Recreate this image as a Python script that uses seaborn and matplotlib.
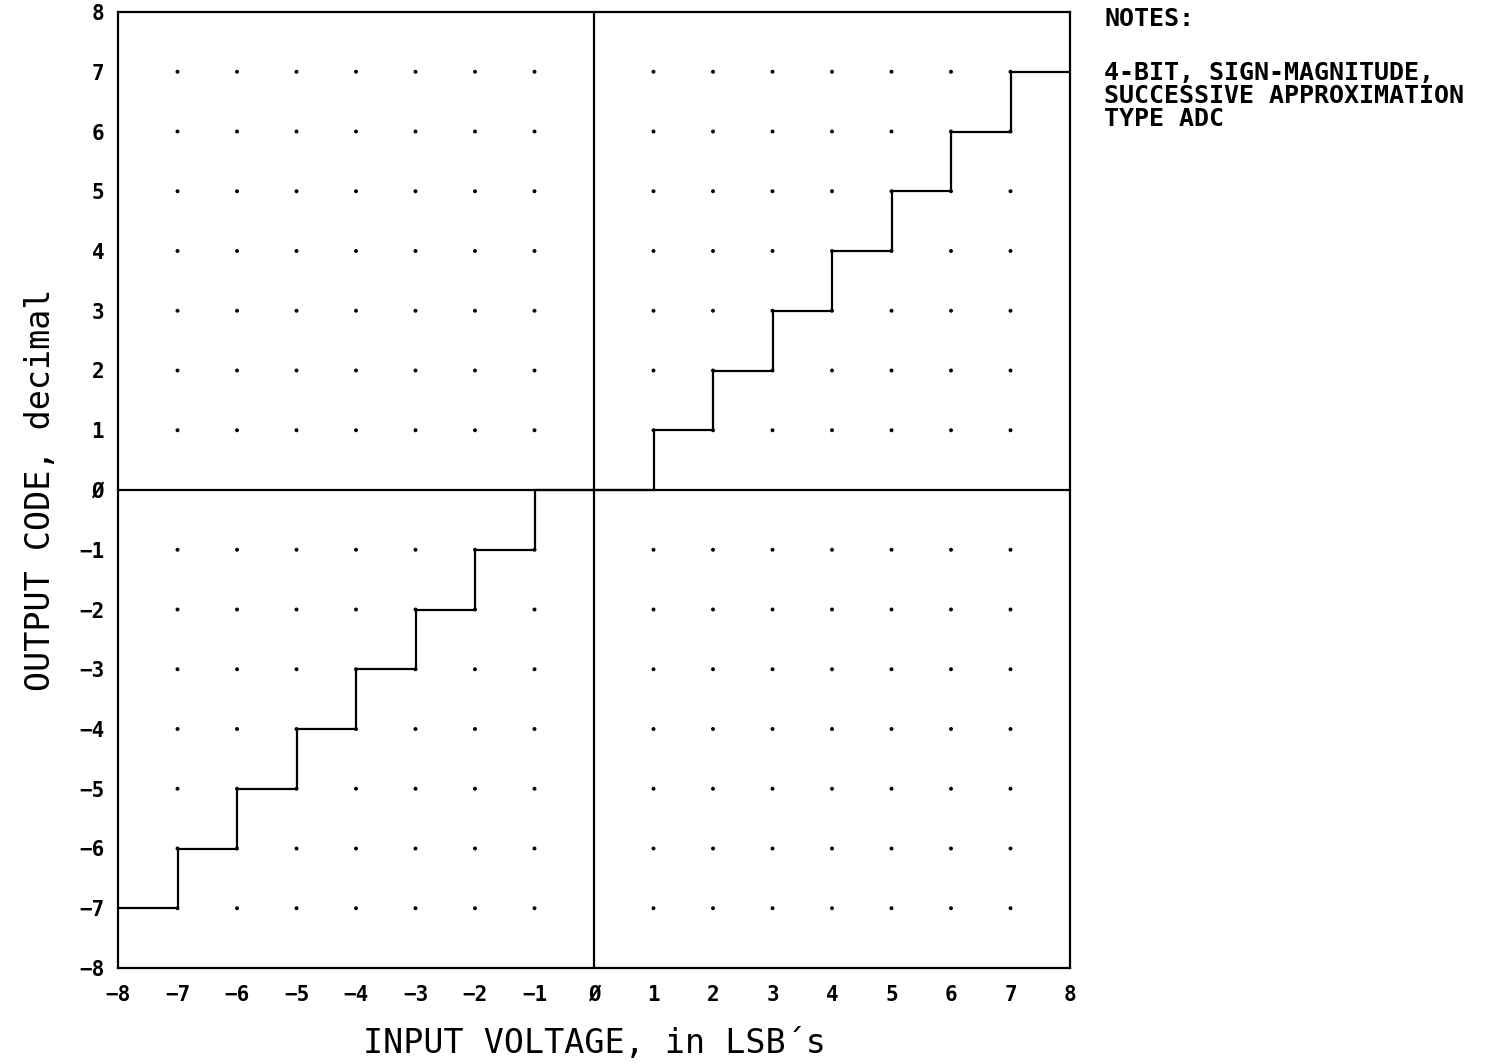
import matplotlib
matplotlib.use("Agg")
import matplotlib.pyplot as plt
import seaborn as sns
import numpy as np
import pandas as pd

# ---- data ----
input_lsb = [-8, -7, -6, -5, -4, -3, -2, -1, 1, 2, 3, 4, 5, 6, 7, 8]
output_code = [-7, -6, -5, -4, -3, -2, -1, 0, 1, 2, 3, 4, 5, 6, 7, 7]
tick_values = [-8, -7, -6, -5, -4, -3, -2, -1, 0, 1, 2, 3, 4, 5, 6, 7, 8]
tick_labels = ["\u22128", "\u22127", "\u22126", "\u22125", "\u22124", "\u22123", "\u22122", "\u22121",
               "\u00d8", "1", "2", "3", "4", "5", "6", "7", "8"]
dot_positions = [-7, -6, -5, -4, -3, -2, -1, 1, 2, 3, 4, 5, 6, 7]
notes_title = "NOTES:"
notes_body = "4-BIT, SIGN-MAGNITUDE,\nSUCCESSIVE APPROXIMATION\nTYPE ADC"
x_label = "INPUT VOLTAGE, in LSB\u00b4s"
y_label = "OUTPUT CODE, decimal"

sns.set_theme(style="white")
plt.rcParams["font.family"] = ["DejaVu Sans Mono", "DejaVu Sans"]

fig = plt.figure(figsize=(15.12, 10.63), dpi=100)
ax = fig.add_axes([118 / 1512, 1 - 968 / 1063, (1070 - 118) / 1512, (968 - 12) / 1063])

# grid dots
gx, gy = np.meshgrid(dot_positions, dot_positions)
dots = pd.DataFrame({"x": gx.ravel(), "y": gy.ravel()})
sns.scatterplot(data=dots, x="x", y="y", ax=ax, s=8, color="black",
                edgecolor="none", legend=False, zorder=2)

# axes cross
ax.axhline(0, color="black", lw=1.6, zorder=3)
ax.axvline(0, color="black", lw=1.6, zorder=3)

# transfer function
df = pd.DataFrame({"input": input_lsb, "code": output_code})
sns.lineplot(data=df, x="input", y="code", ax=ax, drawstyle="steps-post",
             color="black", lw=1.6, estimator=None, sort=False, zorder=4)

ax.set_xlim(-8, 8)
ax.set_ylim(-8, 8)
ax.set_xticks(tick_values)
ax.set_xticklabels(tick_labels, fontsize=15, fontweight="bold")
ax.set_yticks(tick_values)
ax.set_yticklabels(tick_labels, fontsize=15, fontweight="bold")
ax.tick_params(axis="both", length=0, pad=10, colors="black")
ax.tick_params(axis="x", pad=12)

for sp in ax.spines.values():
    sp.set_visible(True)
    sp.set_color("black")
    sp.set_linewidth(1.6)

ax.set_xlabel(x_label, fontsize=24, color="black", labelpad=16)
ax.set_ylabel(y_label, fontsize=24, color="black", labelpad=16)

fig.text(1104 / 1512, 1 - 19 / 1063, notes_title, fontsize=18, fontweight="bold",
         va="center", ha="left", color="black")
fig.text(1104 / 1512, 1 - 61 / 1063, notes_body, fontsize=18, fontweight="bold",
         va="top", ha="left", color="black", linespacing=0.95)

fig.savefig("out.png", dpi=100, facecolor="white")
